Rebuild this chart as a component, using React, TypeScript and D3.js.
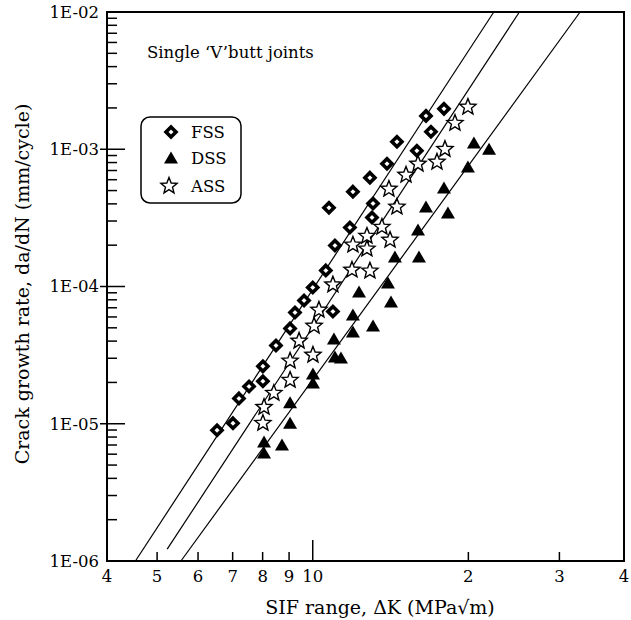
import React, { useEffect, useRef } from "react";
import * as d3 from "d3";

// FSS (diamonds)
const fssK = [6.53, 7.01, 7.2, 7.53, 8.01, 8.01, 8.49, 9.04, 9.24, 9.62, 10.0, 10.6, 10.94, 11.04, 10.75, 11.8, 11.96, 12.9, 13.08, 13.02, 13.92, 14.55, 15.9, 16.56, 16.93, 17.94];
const fssRate = [8.97e-6, 1.01e-5, 1.53e-5, 1.87e-5, 2.04e-5, 2.62e-5, 3.72e-5, 4.95e-5, 6.47e-5, 7.91e-5, 9.84e-5, 1.31e-4, 6.58e-5, 1.99e-4, 3.75e-4, 2.69e-4, 4.91e-4, 6.21e-4, 4.02e-4, 3.18e-4, 7.85e-4, 1.135e-3, 9.75e-4, 1.75e-3, 1.34e-3, 1.97e-3];

// DSS (filled triangles)
const dssK = [8.05, 8.05, 8.72, 9.04, 9.04, 10.01, 10.01, 10.99, 11.04, 11.34, 11.96, 11.96, 12.29, 13.08, 13.98, 14.17, 14.42, 16.05, 15.98, 16.56, 17.94, 18.26, 19.96, 20.5, 21.93];
const dssRate = [7.36e-6, 6.12e-6, 7.0e-6, 1.01e-5, 1.42e-5, 2.3e-5, 1.98e-5, 4.14e-5, 3.06e-5, 3.01e-5, 6.2e-5, 4.66e-5, 9.12e-5, 5.15e-5, 1.06e-4, 7.71e-5, 1.64e-4, 1.64e-4, 2.58e-4, 3.8e-4, 5.22e-4, 3.43e-4, 7.43e-4, 1.11e-3, 1.0e-3];

// ASS (open stars)
const assK = [8.01, 8.05, 8.41, 9.04, 9.04, 9.41, 10.01, 10.06, 10.28, 10.94, 11.91, 12.9, 11.96, 12.73, 12.73, 13.61, 14.11, 14.55, 14.04, 15.15, 15.98, 17.39, 18.02, 18.84, 19.96];
const assRate = [1.01e-5, 1.32e-5, 1.67e-5, 2.08e-5, 2.87e-5, 4.01e-5, 3.17e-5, 5.15e-5, 6.74e-5, 1.03e-4, 1.32e-4, 1.3e-4, 2.01e-4, 1.88e-4, 2.33e-4, 2.71e-4, 2.18e-4, 3.8e-4, 5.13e-4, 6.49e-4, 7.81e-4, 8.07e-4, 1.0e-3, 1.55e-3, 2.03e-3];

// fitted Paris-law lines (end points)
const fitFssK = [4.54, 22.4];
const fitFssRate = [1e-6, 1e-2];
const fitAssK = [5.23, 25.1];
const fitAssRate = [1.22e-6, 1e-2];
const fitDssK = [5.56, 32.9];
const fitDssRate = [1e-6, 1e-2];

const xTickValues = [4, 5, 6, 7, 8, 9, 10, 20, 30, 40];
const xTickLabels = ["4", "5", "6", "7", "8", "9", "10", "2", "3", "4"];
const yTickValues = [1e-6, 1e-5, 1e-4, 1e-3, 1e-2];
const yTickLabels = ["1E-06", "1E-05", "1E-04", "1E-03", "1E-02"];

const legendNames = ["FSS", "DSS", "ASS"];

const FONT = "'DejaVu Serif', serif";

function diamondPath() {
  const r = 5;
  return `M0,${-r}L${r},0L0,${r}L${-r},0Z`;
}

function trianglePath() {
  return "M0,-6.5L7,5.5L-7,5.5Z";
}

function starPath() {
  const outer = 8.5;
  const inner = 3.7;
  const pts: string[] = [];
  for (let i = 0; i < 10; i++) {
    const r = i % 2 === 0 ? outer : inner;
    const a = -Math.PI / 2 + (i * Math.PI) / 5;
    pts.push(`${(r * Math.cos(a)).toFixed(2)},${(r * Math.sin(a)).toFixed(2)}`);
  }
  return "M" + pts.join("L") + "Z";
}

function App() {
  const ref = useRef<SVGSVGElement>(null);

  useEffect(() => {
    const svg = d3.select(ref.current);
    svg.selectAll("*").remove();

    const left = 107;
    const right = 624;
    const top = 12;
    const bottom = 561;

    const x = d3.scaleLog().domain([4, 40]).range([left, right]);
    const y = d3.scaleLog().domain([1e-6, 1e-2]).range([bottom, top]);

    // ticks on y axis (inside)
    const yMinor: number[] = [];
    for (let e = -6; e < -2; e++) {
      for (let m = 2; m <= 9; m++) yMinor.push(m * Math.pow(10, e));
    }
    svg
      .selectAll(".ymin")
      .data(yMinor)
      .enter()
      .append("line")
      .attr("x1", left)
      .attr("x2", left + 10)
      .attr("y1", (d) => y(d))
      .attr("y2", (d) => y(d))
      .attr("stroke", "#000")
      .attr("stroke-width", 1.5);
    svg
      .selectAll(".ymaj")
      .data(yTickValues.slice(1, -1))
      .enter()
      .append("line")
      .attr("x1", left - 7)
      .attr("x2", left + 18)
      .attr("y1", (d) => y(d))
      .attr("y2", (d) => y(d))
      .attr("stroke", "#000")
      .attr("stroke-width", 1.5);

    // ticks on x axis (inside)
    svg
      .selectAll(".xt")
      .data(xTickValues.slice(1, -1))
      .enter()
      .append("line")
      .attr("x1", (d) => x(d))
      .attr("x2", (d) => x(d))
      .attr("y1", bottom)
      .attr("y2", (d) => (d === 10 ? bottom - 21 : bottom - 9))
      .attr("stroke", "#000")
      .attr("stroke-width", 1.5);

    // frame
    svg
      .append("rect")
      .attr("x", left)
      .attr("y", top)
      .attr("width", right - left)
      .attr("height", bottom - top)
      .attr("fill", "none")
      .attr("stroke", "#000")
      .attr("stroke-width", 2);

    // tick labels
    svg
      .selectAll(".yl")
      .data(yTickValues)
      .enter()
      .append("text")
      .attr("x", 99)
      .attr("y", (d) => y(d))
      .attr("dy", "0.36em")
      .attr("text-anchor", "end")
      .style("font-family", FONT)
      .style("font-size", "16.5px")
      .text((_, i) => yTickLabels[i]);

    svg
      .selectAll(".xl")
      .data(xTickValues)
      .enter()
      .append("text")
      .attr("x", (d) => x(d))
      .attr("y", 582)
      .attr("text-anchor", "middle")
      .style("font-family", FONT)
      .style("font-size", "16.5px")
      .text((_, i) => xTickLabels[i]);

    // axis titles
    svg
      .append("text")
      .attr("x", 380)
      .attr("y", 614)
      .attr("text-anchor", "middle")
      .style("font-family", FONT)
      .style("font-size", "19px")
      .text("SIF range, \u0394K (MPa\u221Am)");

    svg
      .append("text")
      .attr("transform", "translate(29,284) rotate(-90)")
      .attr("text-anchor", "middle")
      .style("font-family", FONT)
      .style("font-size", "19px")
      .text("Crack growth rate, da/dN (mm/cycle)");

    svg
      .append("text")
      .attr("x", 147)
      .attr("y", 58)
      .style("font-family", FONT)
      .style("font-size", "16.5px")
      .text("Single \u2018V\u2019butt joints");

    // fit lines
    const line = d3
      .line<[number, number]>()
      .x((d) => x(d[0]))
      .y((d) => y(d[1]));
    const fits: [number[], number[]][] = [
      [fitFssK, fitFssRate],
      [fitAssK, fitAssRate],
      [fitDssK, fitDssRate],
    ];
    fits.forEach(([ks, rs]) => {
      svg
        .append("path")
        .attr("d", line(ks.map((k, i) => [k, rs[i]] as [number, number])))
        .attr("fill", "none")
        .attr("stroke", "#000")
        .attr("stroke-width", 1.2);
    });

    // markers
    const stars = svg.append("g");
    assK.forEach((k, i) => {
      stars
        .append("path")
        .attr("d", starPath())
        .attr("transform", `translate(${x(k)},${y(assRate[i])})`)
        .attr("fill", "#fff")
        .attr("stroke", "#000")
        .attr("stroke-width", 1.4);
    });

    const tris = svg.append("g");
    dssK.forEach((k, i) => {
      tris
        .append("path")
        .attr("d", trianglePath())
        .attr("transform", `translate(${x(k)},${y(dssRate[i])})`)
        .attr("fill", "#000");
    });

    const dias = svg.append("g");
    fssK.forEach((k, i) => {
      dias
        .append("path")
        .attr("d", diamondPath())
        .attr("transform", `translate(${x(k)},${y(fssRate[i])})`)
        .attr("fill", "#fff")
        .attr("stroke", "#000")
        .attr("stroke-width", 3.6);
    });

    // legend
    const lg = svg.append("g");
    lg.append("rect")
      .attr("x", 141)
      .attr("y", 117)
      .attr("width", 100)
      .attr("height", 86)
      .attr("rx", 9)
      .attr("fill", "#fff")
      .attr("stroke", "#000")
      .attr("stroke-width", 1.5);
    const legendY = [132, 158, 186];
    lg.append("path")
      .attr("d", diamondPath())
      .attr("transform", `translate(171,${legendY[0]})`)
      .attr("fill", "#fff")
      .attr("stroke", "#000")
      .attr("stroke-width", 3.6);
    lg.append("path")
      .attr("d", trianglePath())
      .attr("transform", `translate(171,${legendY[1]})`)
      .attr("fill", "#000");
    lg.append("path")
      .attr("d", starPath())
      .attr("transform", `translate(169,${legendY[2]})`)
      .attr("fill", "#fff")
      .attr("stroke", "#000")
      .attr("stroke-width", 1.4);
    legendNames.forEach((n, i) => {
      lg.append("text")
        .attr("x", 191)
        .attr("y", legendY[i])
        .attr("dy", "0.36em")
        .style("font-family", FONT)
        .style("font-size", "16.5px")
        .text(n);
    });
  }, []);

  return (
    <svg
      ref={ref}
      width={631}
      height={620}
      style={{ position: "absolute", left: 0, top: 0, background: "#fff" }}
    />
  );
}

export default App;
